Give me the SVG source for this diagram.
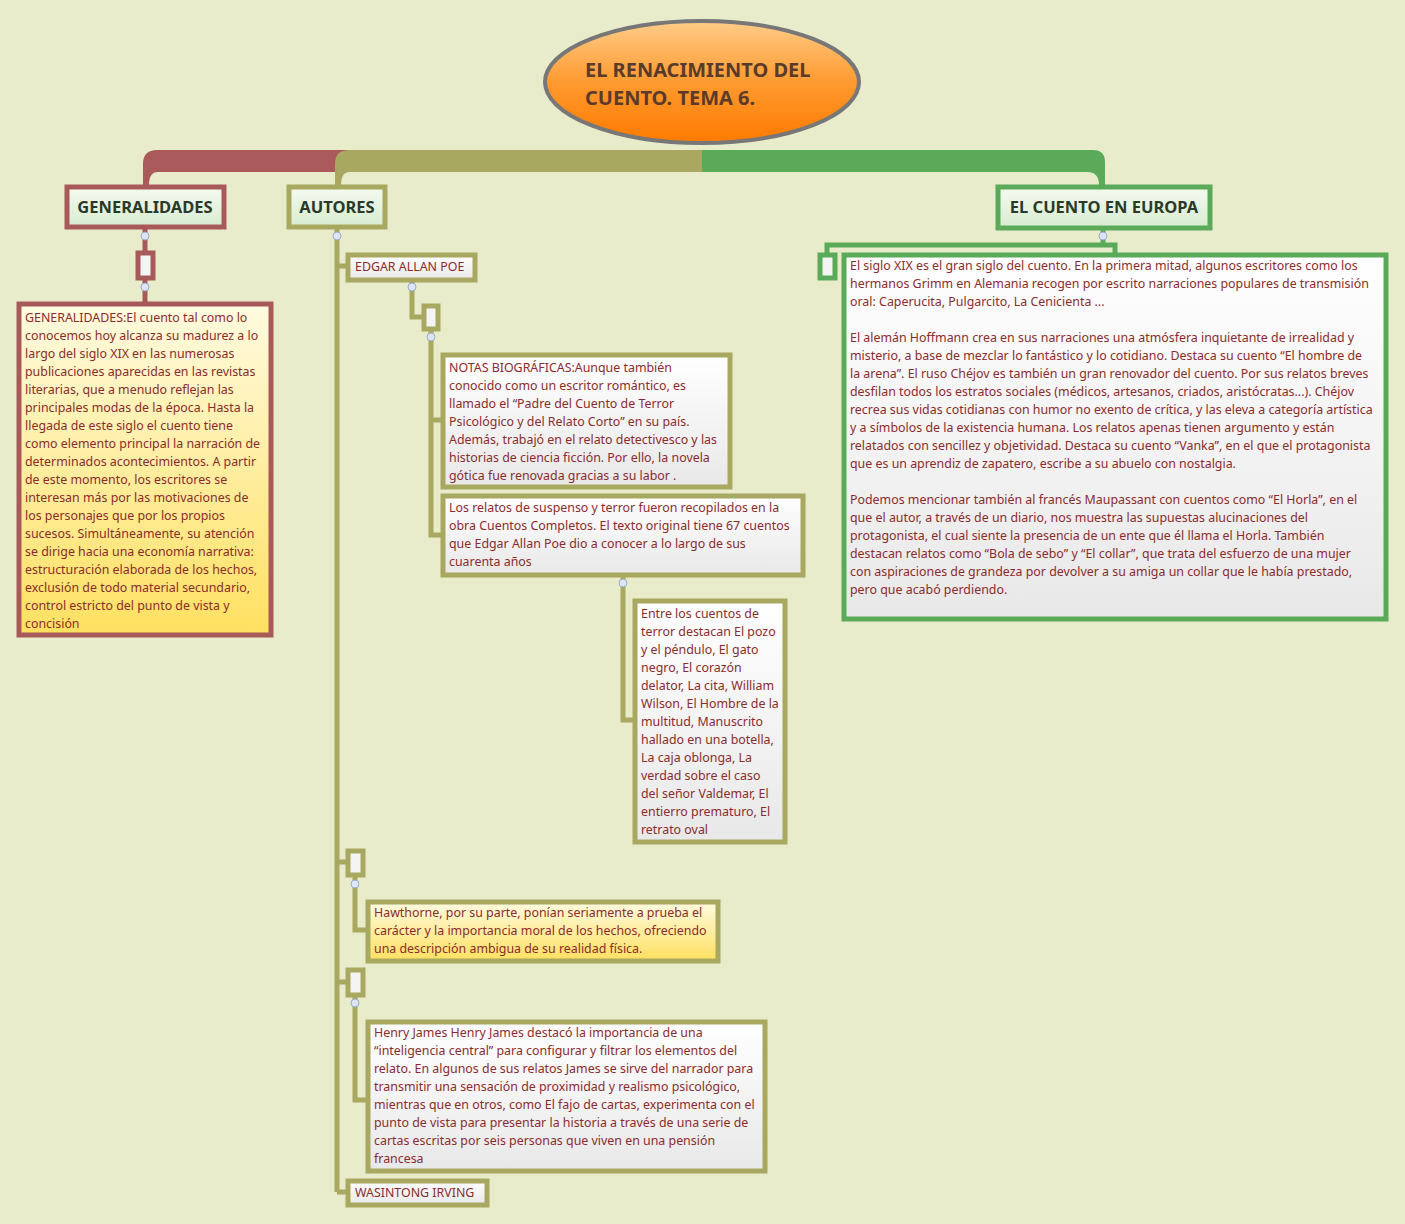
<svg xmlns="http://www.w3.org/2000/svg" width="1405" height="1224" viewBox="0 0 1405 1224">
<defs>
<linearGradient id="gOr" x1="0" y1="0" x2="0" y2="1"><stop offset="0" stop-color="#ffcc88"/><stop offset="0.5" stop-color="#ff9a30"/><stop offset="1" stop-color="#ff7a00"/></linearGradient>
<linearGradient id="gTop" x1="0" y1="0" x2="0" y2="1"><stop offset="0" stop-color="#f4faf0"/><stop offset="1" stop-color="#d8ecd0"/></linearGradient>
<linearGradient id="gY" x1="0" y1="0" x2="0" y2="1"><stop offset="0" stop-color="#fffbe0"/><stop offset="1" stop-color="#ffe060"/></linearGradient>
<linearGradient id="gW" x1="0" y1="0" x2="0" y2="1"><stop offset="0" stop-color="#ffffff"/><stop offset="1" stop-color="#e8e8e8"/></linearGradient>
</defs>
<style>
.t{font-family:"Noto Sans","Open Sans",sans-serif;font-size:12.4px;fill:#8b2c2c}
.h{font-family:"Noto Sans","Open Sans",sans-serif;font-size:16.5px;font-weight:bold;fill:#2a3a2a}
.r{stroke:#a85a5a;stroke-width:5}
.o{stroke:#a8a860;stroke-width:5}
.g{stroke:#5aaa5a;stroke-width:5}
.ln{fill:none}
.m{fill:#dde6f4;stroke:#9aaad0;stroke-width:1}
</style>
<rect width="1405" height="1224" fill="#e8ecca"/>
<g id="connectors">
<path d="M143,185 L143,164 Q143,150 157,150 L350,150 L350,172 L158,172 Q149,172 149,185 Z" fill="#aa5a5a"/>
<path d="M335,185 L335,164 Q335,150 349,150 L703,150 L703,172 L350,172 Q341,172 341,185 Z" fill="#a8a860"/>
<path d="M702,150 L1093,150 Q1105,150 1105,162 L1105,185 L1099,185 Q1099,172 1087,172 L702,172 Z" fill="#5aaa5a"/>
<path class="r ln" d="M145,228 V303"/>
<path class="o ln" d="M337,228 V1192 M337,266 H346 M337,862 H346 M337,982 H346 M337,1192 H346"/>
<path class="o ln" d="M412,280 V317 H423"/>
<path class="o ln" d="M431,330 V535 H441 M431,420 H441"/>
<path class="o ln" d="M623,576 V720 H633"/>
<path class="o ln" d="M355,876 V930 H366"/>
<path class="o ln" d="M355,996 V1100 H366"/>
<path class="g ln" d="M1103,229 V245 M827,257 V245 H1115 V257"/>
<circle class="m" cx="145" cy="236" r="4"/><circle class="m" cx="145" cy="287" r="4"/>
<circle class="m" cx="337" cy="236" r="4"/><circle class="m" cx="412" cy="287" r="4"/>
<circle class="m" cx="431" cy="337" r="4"/><circle class="m" cx="623" cy="583" r="4"/>
<circle class="m" cx="355" cy="884" r="4"/><circle class="m" cx="355" cy="1003" r="4"/>
<circle class="m" cx="1103" cy="236" r="4"/>
</g>
<g id="root"><ellipse cx="702" cy="82" rx="157" ry="61" fill="url(#gOr)" stroke="#777" stroke-width="4"/>
<text class="h" x="585" y="77" style="font-size:20px;fill:#5a3a2a">EL RENACIMIENTO DEL</text>
<text class="h" x="585" y="105" style="font-size:20px;fill:#5a3a2a">CUENTO. TEMA 6.</text></g>
<g id="gen"><rect class="r" x="67" y="187" width="157" height="40" fill="url(#gTop)"/><text class="h" x="145" y="213" text-anchor="middle">GENERALIDADES</text></g>
<g id="aut"><rect class="o" x="289" y="187" width="96" height="40" fill="url(#gTop)"/><text class="h" x="337" y="213" text-anchor="middle">AUTORES</text></g>
<g id="eur"><rect class="g" x="998" y="187" width="212" height="41" fill="url(#gTop)"/><text class="h" x="1104" y="213" text-anchor="middle">EL CUENTO EN EUROPA</text></g>
<g id="gen1"><rect class="r" x="138" y="253" width="15" height="25" fill="#f4f4f4"/></g>
<g id="gentext"><rect class="r" x="19" y="304" width="252" height="331" fill="url(#gY)"/>
<text class="t" x="25" y="322"><tspan x="25">GENERALIDADES:El cuento tal como lo</tspan><tspan x="25" dy="18">conocemos hoy alcanza su madurez a lo</tspan><tspan x="25" dy="18">largo del siglo XIX en las numerosas</tspan><tspan x="25" dy="18">publicaciones aparecidas en las revistas</tspan><tspan x="25" dy="18">literarias, que a menudo reflejan las</tspan><tspan x="25" dy="18">principales modas de la época. Hasta la</tspan><tspan x="25" dy="18">llegada de este siglo el cuento tiene</tspan><tspan x="25" dy="18">como elemento principal la narración de</tspan><tspan x="25" dy="18">determinados acontecimientos. A partir</tspan><tspan x="25" dy="18">de este momento, los escritores se</tspan><tspan x="25" dy="18">interesan más por las motivaciones de</tspan><tspan x="25" dy="18">los personajes que por los propios</tspan><tspan x="25" dy="18">sucesos. Simultáneamente, su atención</tspan><tspan x="25" dy="18">se dirige hacia una economía narrativa:</tspan><tspan x="25" dy="18">estructuración elaborada de los hechos,</tspan><tspan x="25" dy="18">exclusión de todo material secundario,</tspan><tspan x="25" dy="18">control estricto del punto de vista y</tspan><tspan x="25" dy="18">concisión</tspan></text></g>
<g id="poe"><rect class="o" x="348" y="255" width="127" height="25" fill="url(#gW)"/><text class="t" x="355" y="271">EDGAR ALLAN POE</text></g>
<g id="poe1"><rect class="o" x="424" y="306" width="14" height="23" fill="#f4f4f4"/></g>
<g id="notas"><rect class="o" x="443" y="355" width="287" height="132" fill="url(#gW)"/>
<text class="t" x="449" y="372"><tspan x="449">NOTAS BIOGRÁFICAS:Aunque también</tspan><tspan x="449" dy="18">conocido como un escritor romántico, es</tspan><tspan x="449" dy="18">llamado el “Padre del Cuento de Terror</tspan><tspan x="449" dy="18">Psicológico y del Relato Corto” en su país.</tspan><tspan x="449" dy="18">Además, trabajó en el relato detectivesco y las</tspan><tspan x="449" dy="18">historias de ciencia ficción. Por ello, la novela</tspan><tspan x="449" dy="18">gótica fue renovada gracias a su labor .</tspan></text></g>
<g id="relatos"><rect class="o" x="443" y="496" width="360" height="79" fill="url(#gW)"/>
<text class="t" x="449" y="512"><tspan x="449">Los relatos de suspenso y terror fueron recopilados en la</tspan><tspan x="449" dy="18">obra Cuentos Completos. El texto original tiene 67 cuentos</tspan><tspan x="449" dy="18">que Edgar Allan Poe dio a conocer a lo largo de sus</tspan><tspan x="449" dy="18">cuarenta años</tspan></text></g>
<g id="lista"><rect class="o" x="635" y="601" width="150" height="241" fill="url(#gW)"/>
<text class="t" x="641" y="618"><tspan x="641">Entre los cuentos de</tspan><tspan x="641" dy="18">terror destacan El pozo</tspan><tspan x="641" dy="18">y el péndulo, El gato</tspan><tspan x="641" dy="18">negro, El corazón</tspan><tspan x="641" dy="18">delator, La cita, William</tspan><tspan x="641" dy="18">Wilson, El Hombre de la</tspan><tspan x="641" dy="18">multitud, Manuscrito</tspan><tspan x="641" dy="18">hallado en una botella,</tspan><tspan x="641" dy="18">La caja oblonga, La</tspan><tspan x="641" dy="18">verdad sobre el caso</tspan><tspan x="641" dy="18">del señor Valdemar, El</tspan><tspan x="641" dy="18">entierro prematuro, El</tspan><tspan x="641" dy="18">retrato oval</tspan></text></g>
<g id="haw1"><rect class="o" x="348" y="851" width="15" height="24" fill="#f4f4f4"/></g>
<g id="haw"><rect class="o" x="368" y="902" width="350" height="59" fill="url(#gY)"/>
<text class="t" x="374" y="917"><tspan x="374">Hawthorne, por su parte, ponían seriamente a prueba el</tspan><tspan x="374" dy="18">carácter y la importancia moral de los hechos, ofreciendo</tspan><tspan x="374" dy="18">una descripción ambigua de su realidad física.</tspan></text></g>
<g id="hj1"><rect class="o" x="348" y="970" width="15" height="25" fill="#f4f4f4"/></g>
<g id="hj"><rect class="o" x="368" y="1022" width="397" height="149" fill="url(#gW)"/>
<text class="t" x="374" y="1037"><tspan x="374">Henry James Henry James destacó la importancia de una</tspan><tspan x="374" dy="18">“inteligencia central” para configurar y filtrar los elementos del</tspan><tspan x="374" dy="18">relato. En algunos de sus relatos James se sirve del narrador para</tspan><tspan x="374" dy="18">transmitir una sensación de proximidad y realismo psicológico,</tspan><tspan x="374" dy="18">mientras que en otros, como El fajo de cartas, experimenta con el</tspan><tspan x="374" dy="18">punto de vista para presentar la historia a través de una serie de</tspan><tspan x="374" dy="18">cartas escritas por seis personas que viven en una pensión</tspan><tspan x="374" dy="18">francesa</tspan></text></g>
<g id="irving"><rect class="o" x="348" y="1181" width="139" height="24" fill="url(#gW)"/><text class="t" x="355" y="1197">WASINTONG IRVING</text></g>
<g id="eur1"><rect class="g" x="820" y="255" width="15" height="23" fill="#f4f4f4"/></g>
<g id="eurtext"><rect class="g" x="844" y="255" width="542" height="364" fill="url(#gW)"/>
<text class="t" x="850" y="270"><tspan x="850">El siglo XIX es el gran siglo del cuento. En la primera mitad, algunos escritores como los</tspan><tspan x="850" dy="18">hermanos Grimm en Alemania recogen por escrito narraciones populares de transmisión</tspan><tspan x="850" dy="18">oral: Caperucita, Pulgarcito, La Cenicienta ...</tspan><tspan x="850" dy="36">El alemán Hoffmann crea en sus narraciones una atmósfera inquietante de irrealidad y</tspan><tspan x="850" dy="18">misterio, a base de mezclar lo fantástico y lo cotidiano. Destaca su cuento “El hombre de</tspan><tspan x="850" dy="18">la arena”. El ruso Chéjov es también un gran renovador del cuento. Por sus relatos breves</tspan><tspan x="850" dy="18">desfilan todos los estratos sociales (médicos, artesanos, criados, aristócratas...). Chéjov</tspan><tspan x="850" dy="18">recrea sus vidas cotidianas con humor no exento de crítica, y las eleva a categoría artística</tspan><tspan x="850" dy="18">y a símbolos de la existencia humana. Los relatos apenas tienen argumento y están</tspan><tspan x="850" dy="18">relatados con sencillez y objetividad. Destaca su cuento “Vanka”, en el que el protagonista</tspan><tspan x="850" dy="18">que es un aprendiz de zapatero, escribe a su abuelo con nostalgia.</tspan><tspan x="850" dy="36">Podemos mencionar también al francés Maupassant con cuentos como “El Horla”, en el</tspan><tspan x="850" dy="18">que el autor, a través de un diario, nos muestra las supuestas alucinaciones del</tspan><tspan x="850" dy="18">protagonista, el cual siente la presencia de un ente que él llama el Horla. También</tspan><tspan x="850" dy="18">destacan relatos como “Bola de sebo” y “El collar”, que trata del esfuerzo de una mujer</tspan><tspan x="850" dy="18">con aspiraciones de grandeza por devolver a su amiga un collar que le había prestado,</tspan><tspan x="850" dy="18">pero que acabó perdiendo.</tspan></text></g>
</svg>
